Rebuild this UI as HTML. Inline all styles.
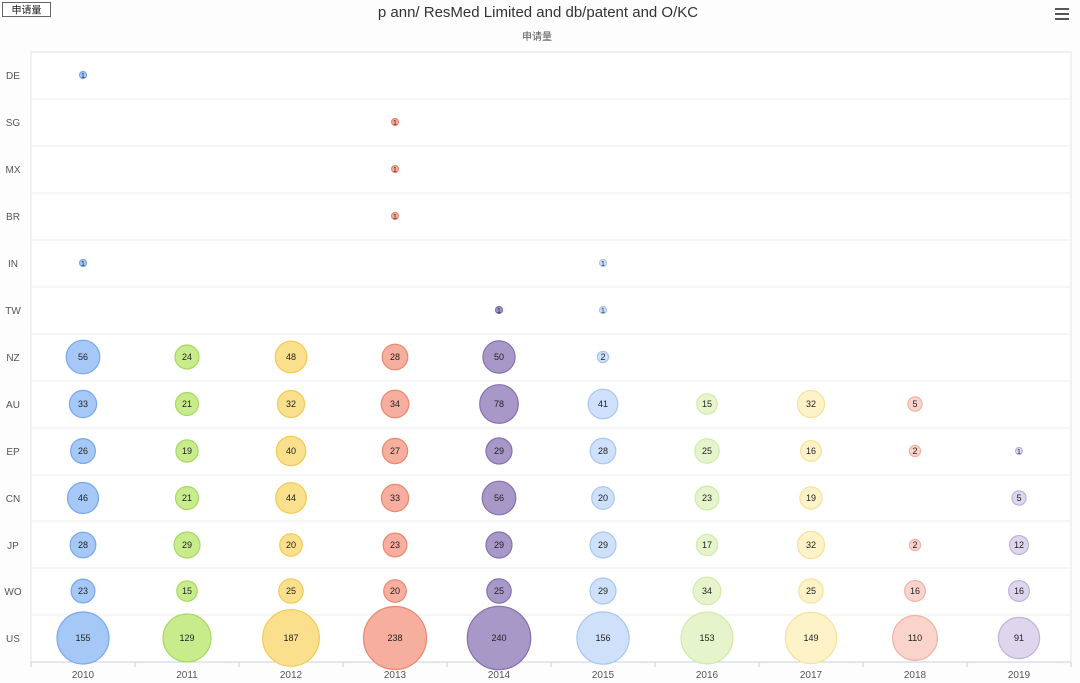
<!DOCTYPE html>
<html><head><meta charset="utf-8"><style>
body{margin:0;background:#fff;}
svg{display:block;font-family:"Liberation Sans","Noto Sans CJK SC",sans-serif;}
</style></head><body>
<svg width="1080" height="683" viewBox="0 0 1080 683" xmlns="http://www.w3.org/2000/svg">
<rect width="1080" height="683" fill="#fdfdfd"/>
<rect x="2.5" y="2.5" width="48" height="14" fill="#fff" stroke="#666"/>
<text x="26.5" y="13.5" font-size="10" text-anchor="middle" fill="#222">申请量</text>
<text x="538" y="17" font-size="15" text-anchor="middle" fill="#333">p ann/ ResMed Limited and db/patent and O/KC</text>
<text x="537" y="40" font-size="10" text-anchor="middle" fill="#555">申请量</text>
<g stroke="#555" stroke-width="2"><line x1="1055" y1="9" x2="1069" y2="9"/><line x1="1055" y1="14" x2="1069" y2="14"/><line x1="1055" y1="19" x2="1069" y2="19"/></g>
<rect x="31" y="52" width="1040" height="610" fill="#fff" stroke="#e4e4e4"/>
<g stroke="#ececec">
<line x1="31" x2="1071" y1="99" y2="99"/><line x1="31" x2="1071" y1="146" y2="146"/><line x1="31" x2="1071" y1="193" y2="193"/><line x1="31" x2="1071" y1="240" y2="240"/><line x1="31" x2="1071" y1="287" y2="287"/><line x1="31" x2="1071" y1="334" y2="334"/><line x1="31" x2="1071" y1="381" y2="381"/><line x1="31" x2="1071" y1="428" y2="428"/><line x1="31" x2="1071" y1="475" y2="475"/><line x1="31" x2="1071" y1="521" y2="521"/><line x1="31" x2="1071" y1="568" y2="568"/><line x1="31" x2="1071" y1="615" y2="615"/>
</g>
<line x1="31" x2="1071" y1="662" y2="662" stroke="#c8d0e0"/>
<g stroke="#c8d0e0"><line x1="31" x2="31" y1="662" y2="667"/><line x1="135" x2="135" y1="662" y2="667"/><line x1="239" x2="239" y1="662" y2="667"/><line x1="343" x2="343" y1="662" y2="667"/><line x1="447" x2="447" y1="662" y2="667"/><line x1="551" x2="551" y1="662" y2="667"/><line x1="655" x2="655" y1="662" y2="667"/><line x1="759" x2="759" y1="662" y2="667"/><line x1="863" x2="863" y1="662" y2="667"/><line x1="967" x2="967" y1="662" y2="667"/><line x1="1071" x2="1071" y1="662" y2="667"/></g>
<g font-size="10" fill="#555" text-anchor="middle">
<text x="83" y="678">2010</text><text x="187" y="678">2011</text><text x="291" y="678">2012</text><text x="395" y="678">2013</text><text x="499" y="678">2014</text><text x="603" y="678">2015</text><text x="707" y="678">2016</text><text x="811" y="678">2017</text><text x="915" y="678">2018</text><text x="1019" y="678">2019</text>
</g>
<g font-size="10" fill="#555" text-anchor="middle">
<text x="13" y="79">DE</text><text x="13" y="126">SG</text><text x="13" y="173">MX</text><text x="13" y="220">BR</text><text x="13" y="267">IN</text><text x="13" y="314">TW</text><text x="13" y="361">NZ</text><text x="13" y="408">AU</text><text x="13" y="455">EP</text><text x="13" y="502">CN</text><text x="13" y="549">JP</text><text x="13" y="595">WO</text><text x="13" y="642">US</text>
</g>
<!-- 2010 -->
<g fill="#a6c8f6" stroke="#78a6ec" stroke-width="1.2">
<circle cx="83" cy="75" r="3.5"/><circle cx="83" cy="263" r="3.5"/><circle cx="83" cy="357" r="16.8"/><circle cx="83" cy="404" r="13.6"/><circle cx="83" cy="451" r="12.4"/><circle cx="83" cy="498" r="15.5"/><circle cx="83" cy="545" r="12.8"/><circle cx="83" cy="591" r="11.9"/><circle cx="83" cy="638" r="26"/>
</g>
<g fill="#c8ec8c" stroke="#a6d862" stroke-width="1.2">
<circle cx="187" cy="357" r="12"/><circle cx="187" cy="404" r="11.5"/><circle cx="187" cy="451" r="11.1"/><circle cx="187" cy="498" r="11.5"/><circle cx="187" cy="545" r="13"/><circle cx="187" cy="591" r="10.2"/><circle cx="187" cy="638" r="24"/>
</g>
<g fill="#fae08c" stroke="#f0ca52" stroke-width="1.2">
<circle cx="291" cy="357" r="15.8"/><circle cx="291" cy="404" r="13.5"/><circle cx="291" cy="451" r="14.7"/><circle cx="291" cy="498" r="15.3"/><circle cx="291" cy="545" r="11.3"/><circle cx="291" cy="591" r="12.2"/><circle cx="291" cy="638" r="28.3"/>
</g>
<g fill="#f6ae9e" stroke="#ec8670" stroke-width="1.2">
<circle cx="395" cy="122" r="3.5"/><circle cx="395" cy="169" r="3.5"/><circle cx="395" cy="216" r="3.5"/><circle cx="395" cy="357" r="12.8"/><circle cx="395" cy="404" r="13.8"/><circle cx="395" cy="451" r="12.6"/><circle cx="395" cy="498" r="13.6"/><circle cx="395" cy="545" r="11.9"/><circle cx="395" cy="591" r="11.3"/><circle cx="395" cy="638" r="31.5"/>
</g>
<g fill="#a898c8" stroke="#8470b0" stroke-width="1.2">
<circle cx="499" cy="310" r="3.5"/><circle cx="499" cy="357" r="16.1"/><circle cx="499" cy="404" r="19.3"/><circle cx="499" cy="451" r="13"/><circle cx="499" cy="498" r="16.8"/><circle cx="499" cy="545" r="13"/><circle cx="499" cy="591" r="12.2"/><circle cx="499" cy="638" r="31.7"/>
</g>
<g fill="#cfe0fa" stroke="#a8c6f2" stroke-width="1.2">
<circle cx="603" cy="263" r="3.5"/><circle cx="603" cy="310" r="3.5"/><circle cx="603" cy="357" r="5.6"/><circle cx="603" cy="404" r="14.8"/><circle cx="603" cy="451" r="12.8"/><circle cx="603" cy="498" r="11.3"/><circle cx="603" cy="545" r="13"/><circle cx="603" cy="591" r="13"/><circle cx="603" cy="638" r="26.1"/>
</g>
<g fill="#e6f4cc" stroke="#d2e9a8" stroke-width="1.2">
<circle cx="707" cy="404" r="10.2"/><circle cx="707" cy="451" r="12.2"/><circle cx="707" cy="498" r="11.9"/><circle cx="707" cy="545" r="10.6"/><circle cx="707" cy="591" r="13.8"/><circle cx="707" cy="638" r="25.9"/>
</g>
<g fill="#fdf2c8" stroke="#f5e29a" stroke-width="1.2">
<circle cx="811" cy="404" r="13.5"/><circle cx="811" cy="451" r="10.4"/><circle cx="811" cy="498" r="11.1"/><circle cx="811" cy="545" r="13.5"/><circle cx="811" cy="591" r="12.2"/><circle cx="811" cy="638" r="25.6"/>
</g>
<g fill="#fad4cc" stroke="#f2b2a4" stroke-width="1.2">
<circle cx="915" cy="404" r="7.1"/><circle cx="915" cy="451" r="5.6"/><circle cx="915" cy="545" r="5.6"/><circle cx="915" cy="591" r="10.4"/><circle cx="915" cy="638" r="22.4"/>
</g>
<g fill="#ddd6ec" stroke="#beb2da" stroke-width="1.2">
<circle cx="1019" cy="451" r="3.5"/><circle cx="1019" cy="498" r="7.1"/><circle cx="1019" cy="545" r="9.4"/><circle cx="1019" cy="591" r="10.4"/><circle cx="1019" cy="638" r="20.6"/>
</g>
<g font-size="9" fill="#222" text-anchor="middle">
<g font-size="7"><text x="83" y="78">1</text><text x="83" y="266">1</text><text x="395" y="125">1</text><text x="395" y="172">1</text><text x="395" y="219">1</text><text x="499" y="313">1</text><text x="603" y="266">1</text><text x="603" y="313">1</text><text x="1019" y="454">1</text></g>
<text x="83" y="360">56</text><text x="83" y="407">33</text><text x="83" y="454">26</text><text x="83" y="501">46</text><text x="83" y="548">28</text><text x="83" y="594">23</text><text x="83" y="641">155</text>
<text x="187" y="360">24</text><text x="187" y="407">21</text><text x="187" y="454">19</text><text x="187" y="501">21</text><text x="187" y="548">29</text><text x="187" y="594">15</text><text x="187" y="641">129</text>
<text x="291" y="360">48</text><text x="291" y="407">32</text><text x="291" y="454">40</text><text x="291" y="501">44</text><text x="291" y="548">20</text><text x="291" y="594">25</text><text x="291" y="641">187</text>
<text x="395" y="360">28</text><text x="395" y="407">34</text><text x="395" y="454">27</text><text x="395" y="501">33</text><text x="395" y="548">23</text><text x="395" y="594">20</text><text x="395" y="641">238</text>
<text x="499" y="360">50</text><text x="499" y="407">78</text><text x="499" y="454">29</text><text x="499" y="501">56</text><text x="499" y="548">29</text><text x="499" y="594">25</text><text x="499" y="641">240</text>
<text x="603" y="360">2</text><text x="603" y="407">41</text><text x="603" y="454">28</text><text x="603" y="501">20</text><text x="603" y="548">29</text><text x="603" y="594">29</text><text x="603" y="641">156</text>
<text x="707" y="407">15</text><text x="707" y="454">25</text><text x="707" y="501">23</text><text x="707" y="548">17</text><text x="707" y="594">34</text><text x="707" y="641">153</text>
<text x="811" y="407">32</text><text x="811" y="454">16</text><text x="811" y="501">19</text><text x="811" y="548">32</text><text x="811" y="594">25</text><text x="811" y="641">149</text>
<text x="915" y="407">5</text><text x="915" y="454">2</text><text x="915" y="548">2</text><text x="915" y="594">16</text><text x="915" y="641">110</text>
<text x="1019" y="501">5</text><text x="1019" y="548">12</text><text x="1019" y="594">16</text><text x="1019" y="641">91</text>
</g>
</svg>
</body></html>
